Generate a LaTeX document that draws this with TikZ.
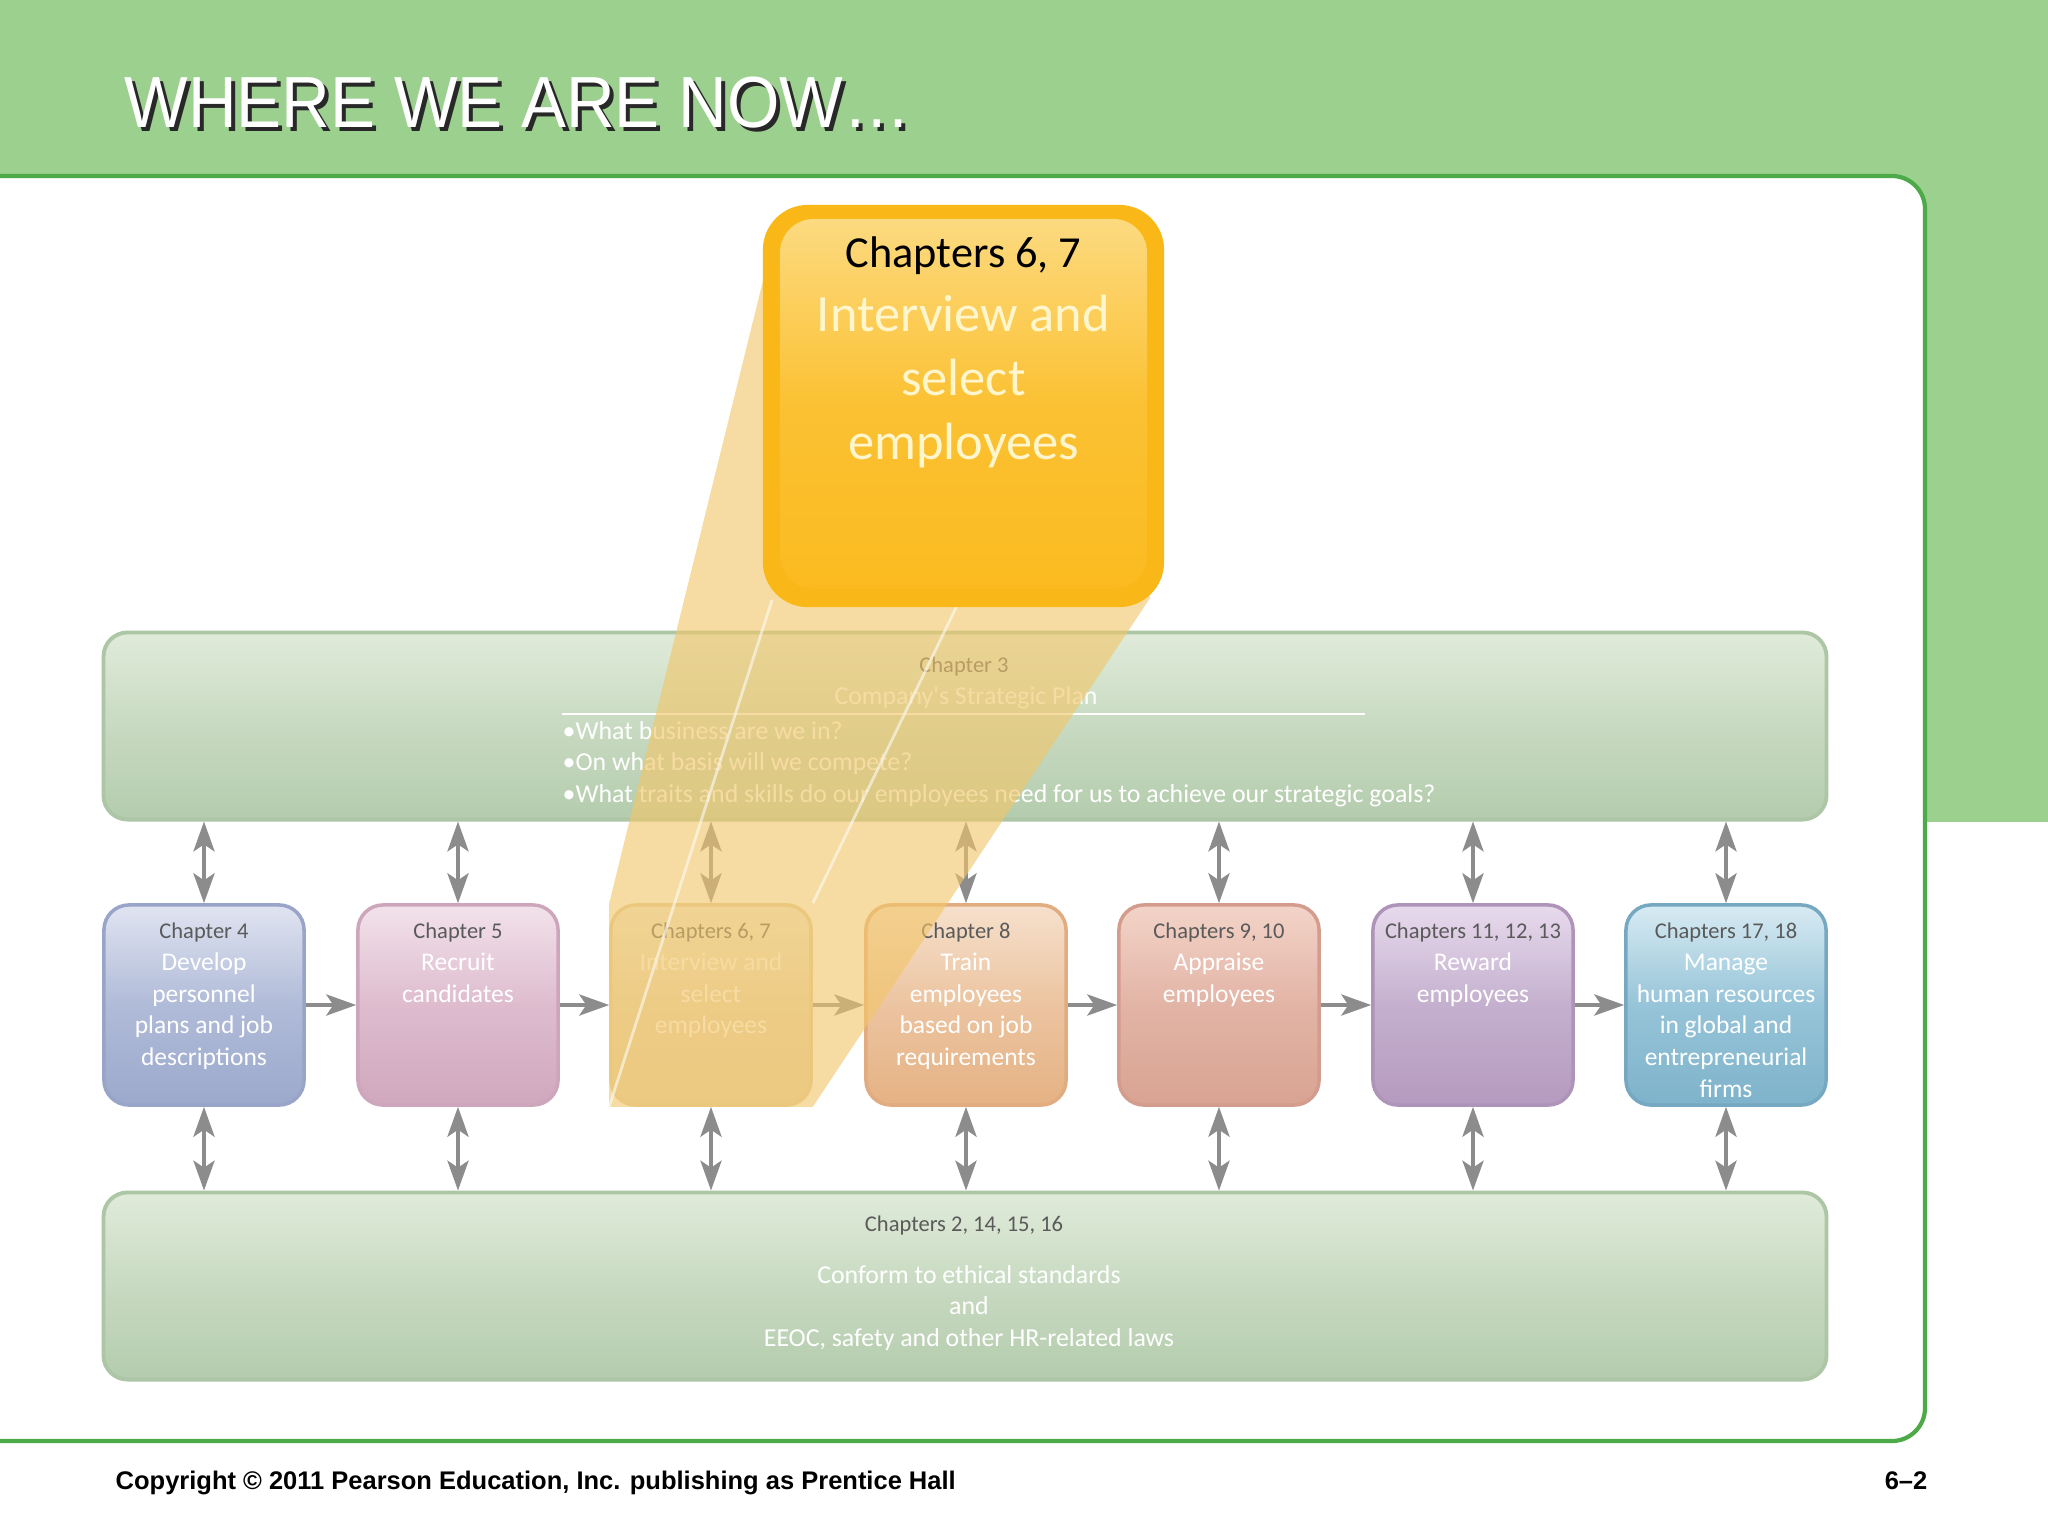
\documentclass[tikz,border=0pt]{standalone}
\usepackage{graphicx}
\usepackage{fontspec}
\setmainfont{Liberation Sans}
\newfontfamily\myriad{Carlito}
\usetikzlibrary{arrows.meta,positioning}

\definecolor{headgreen}{RGB}{156,208,142}
\definecolor{panelline}{RGB}{76,170,72}
\definecolor{titleshade}{RGB}{40,40,40}
\definecolor{labelgray}{RGB}{90,90,90}
\definecolor{arrowgray}{RGB}{140,140,140}
\definecolor{bandtop}{RGB}{224,235,218}
\definecolor{bandbot}{RGB}{180,204,173}
\definecolor{bandline}{RGB}{172,198,166}
\definecolor{beamcol}{RGB}{242,198,105}
\definecolor{focusrim}{RGB}{249,184,24}
\definecolor{focustop}{RGB}{252,218,128}
\definecolor{focusbot}{RGB}{251,187,32}
\definecolor{focusword}{RGB}{255,246,205}

\newcommand{\chap}[1]{{\fontsize{6.4}{9.05}\selectfont\textcolor{labelgray}{#1}}\\}

\tikzset{
  stage/.style={rounded corners=0.25cm, minimum width=2cm, minimum height=2cm,
    line width=1pt, inner sep=0pt},
  stagetext/.style={font=\myriad\fontsize{7.25}{9.05}\selectfont, text=white,
    align=center, inner sep=0pt},
  band/.style={rounded corners=0.24cm, minimum width=17.22cm, minimum height=1.87cm,
    draw=bandline, line width=1.1pt, top color=bandtop, bottom color=bandbot,
    middle color=bandbot!55!bandtop},
  bandtext/.style={font=\myriad\fontsize{7.35}{8.94}\selectfont, text=white, inner sep=0pt},
  bandlabel/.style={font=\myriad\fontsize{6.4}{8.94}\selectfont, text=labelgray, inner sep=0pt},
  flow/.style={draw=arrowgray, line width=1.1pt,
    -{Stealth[length=8.5pt,width=6pt,inset=2pt]}},
  link/.style={draw=arrowgray, line width=1.1pt,
    {Stealth[length=8.5pt,width=6pt,inset=2pt]}-{Stealth[length=8.5pt,width=6pt,inset=2pt]}},
  titletext/.style={font=\fontsize{20.6}{24}\selectfont, inner sep=0pt, anchor=base west},
  foot/.style={font=\bfseries\fontsize{7.25}{8}\selectfont, inner sep=0pt},
  beam/.style={fill=beamcol, fill opacity=0.62},
  beamedge/.style={draw=white, draw opacity=0.55, line width=0.8pt}
}

\begin{document}
\begin{tikzpicture}[x=0.01cm, y=-0.01cm]
  \useasboundingbox (0,0) rectangle (2048,1536);
  % Slide background
  \fill[white] (0,0) rectangle (2048,1536);
  \fill[headgreen] (0,0) rectangle (2048,176);
  \fill[headgreen] (1880,176) rectangle (2048,822);
  \fill[white, rounded corners=0.33cm] (-20,176) -- (1925,176) -- (1925,1441) -- (-20,1441) -- cycle;
  \draw[panelline, line width=1.2pt, rounded corners=0.33cm] (-20,176) -- (1925,176) -- (1925,1441) -- (-20,1441);

  % Title and footer
  \node[titletext, text=titleshade] (titleshadow) at (128,131) {\scalebox{0.93}[1]{WHERE WE ARE NOW…}};
  \node[titletext, text=white] (title) at (124,127) {\scalebox{0.93}[1]{WHERE WE ARE NOW…}};
  \node[foot, anchor=base west] (copyright) at (115,1489) {Copyright © 2011 Pearson Education, Inc. publishing as Prentice Hall};
  \node[foot, anchor=base east] (slideno) at (1928,1489) {6–2};

  % Strategic plan band
  \node[band] (plan) at (965,726) {};
  \node[bandlabel] (plantitle) at (964,666) {Chapter 3};
  \node[bandtext] (planname) at (966,698) {Company's Strategic Plan};
  \draw[white, line width=0.6pt] (562,714) -- (1365,714);
  \node[bandtext, anchor=west, align=left] (planquestions) at (562,764)
    {•What business are we in?\\•On what basis will we compete?\\•What traits and skills do our employees need for us to achieve our strategic goals?};

  % Legal band
  \node[band] (law) at (965,1286) {};
  \node[bandlabel] (lawtitle) at (964,1225) {Chapters 2, 14, 15, 16};
  \node[bandtext, align=center] (lawtext) at (969,1308)
    {Conform to ethical standards\\and\\EEOC, safety and other HR-related laws};

  % HR activities
  \node[stage, draw={rgb,255:red,152;green,164;blue,200}, top color={rgb,255:red,224;green,228;blue,241},
    bottom color={rgb,255:red,156;green,169;blue,204}, middle color={rgb,255:red,176;green,187;blue,216}] (c4) at (204,1005) {};
  \node[stage, draw={rgb,255:red,206;green,166;blue,188}, top color={rgb,255:red,242;green,226;blue,235},
    bottom color={rgb,255:red,208;green,168;blue,190}, middle color={rgb,255:red,222;green,188;blue,206}] (c5) at (458,1005) {};
  \node[stage, draw={rgb,255:red,226;green,204;blue,160}, top color={rgb,255:red,240;green,236;blue,222},
    bottom color={rgb,255:red,226;green,208;blue,168}, middle color={rgb,255:red,230;green,214;blue,180}] (c67) at (711,1005) {};
  \node[stage, draw={rgb,255:red,224;green,172;blue,128}, top color={rgb,255:red,246;green,224;blue,204},
    bottom color={rgb,255:red,229;green,178;blue,132}, middle color={rgb,255:red,236;green,196;blue,160}] (c8) at (966,1005) {};
  \node[stage, draw={rgb,255:red,212;green,156;blue,140}, top color={rgb,255:red,243;green,212;blue,200},
    bottom color={rgb,255:red,217;green,163;blue,146}, middle color={rgb,255:red,226;green,180;blue,166}] (c910) at (1219,1005) {};
  \node[stage, draw={rgb,255:red,174;green,148;blue,184}, top color={rgb,255:red,232;green,218;blue,237},
    bottom color={rgb,255:red,181;green,155;blue,191}, middle color={rgb,255:red,196;green,176;blue,206}] (c1113) at (1473,1005) {};
  \node[stage, draw={rgb,255:red,118;green,168;blue,194}, top color={rgb,255:red,216;green,235;blue,243},
    bottom color={rgb,255:red,126;green,179;blue,203}, middle color={rgb,255:red,150;green,196;blue,216}] (c1718) at (1726,1005) {};

  \node[stagetext, below=5.4pt of c4.north] (c4text) {\chap{Chapter 4}Develop\\personnel\\plans and job\\descriptions};
  \node[stagetext, below=5.4pt of c5.north] (c5text) {\chap{Chapter 5}Recruit\\candidates};
  \node[stagetext, below=5.4pt of c67.north] (c67text) {\chap{Chapters 6, 7}Interview and\\select\\employees};
  \node[stagetext, below=5.4pt of c8.north] (c8text) {\chap{Chapter 8}Train\\employees\\based on job\\requirements};
  \node[stagetext, below=5.4pt of c910.north] (c910text) {\chap{Chapters 9, 10}Appraise\\employees};
  \node[stagetext, below=5.4pt of c1113.north] (c1113text) {\chap{Chapters 11, 12, 13}Reward\\employees};
  \node[stagetext, below=5.4pt of c1718.north] (c1718text) {\chap{Chapters 17, 18}Manage\\human resources\\in global and\\entrepreneurial\\firms};

  % Process arrows
  \draw[flow] (c4) -- (c5);
  \draw[flow] (c5) -- (c67);
  \draw[flow] (c67) -- (c8);
  \draw[flow] (c8) -- (c910);
  \draw[flow] (c910) -- (c1113);
  \draw[flow] (c1113) -- (c1718);

  % Links to the plan
  \draw[link] (plan.south -| c4) -- (c4);
  \draw[link] (plan.south -| c5) -- (c5);
  \draw[link] (plan.south -| c67) -- (c67);
  \draw[link] (plan.south -| c8) -- (c8);
  \draw[link] (plan.south -| c910) -- (c910);
  \draw[link] (plan.south -| c1113) -- (c1113);
  \draw[link] (plan.south -| c1718) -- (c1718);

  % Links to the laws
  \draw[link] (c4) -- (law.north -| c4);
  \draw[link] (c5) -- (law.north -| c5);
  \draw[link] (c67) -- (law.north -| c67);
  \draw[link] (c8) -- (law.north -| c8);
  \draw[link] (c910) -- (law.north -| c910);
  \draw[link] (c1113) -- (law.north -| c1113);
  \draw[link] (c1718) -- (law.north -| c1718);

  % Zoom beam
  \coordinate (focusnw) at (776,228);
  \coordinate (focusne) at (1140,228);
  \coordinate (focusse) at (1150,598);
  \coordinate (focussw) at (772,600);
  \fill[beam] (focusnw) -- (focusne) -- (focusse) -- (c67.south east) -- (c67.south west) -- (c67.north west) -- cycle;
  \draw[beamedge] (focussw) -- (c67.south west);
  \draw[beamedge] (focusne) -- (c67.north east);

  % Focus box
  \node[rounded corners=0.45cm, minimum width=4.01cm, minimum height=4.02cm, fill=focusrim] (focus) at (963.5,406) {};
  \node[rounded corners=0.34cm, minimum width=3.67cm, minimum height=3.7cm, inner sep=0pt,
    top color=focustop, bottom color=focusbot, middle color=focusbot!80!focustop] (focusin) at (963.5,404) {};
  \node[font=\myriad\fontsize{14.9}{18.2}\selectfont, text=focusword, align=center, inner sep=0pt,
    below=9pt of focus.north] (focustext)
    {{\fontsize{12.6}{18.2}\selectfont\textcolor{black}{Chapters 6, 7}}\\Interview and\\select\\employees};
\end{tikzpicture}
\end{document}
